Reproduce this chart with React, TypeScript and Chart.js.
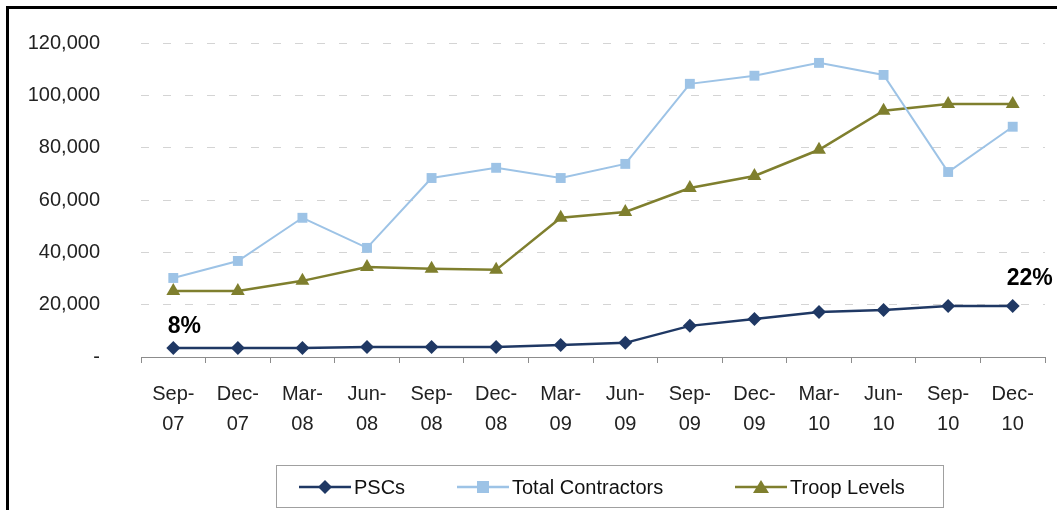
import React, { useEffect, useRef } from 'react';
import { Chart, registerables } from 'chart.js';

Chart.register(...registerables);

const categories: string[][] = [
  ['Sep-', '07'], ['Dec-', '07'], ['Mar-', '08'], ['Jun-', '08'],
  ['Sep-', '08'], ['Dec-', '08'], ['Mar-', '09'], ['Jun-', '09'],
  ['Sep-', '09'], ['Dec-', '09'], ['Mar-', '10'], ['Jun-', '10'],
  ['Sep-', '10'], ['Dec-', '10'],
];
const pscs = [3400, 3400, 3400, 3800, 3800, 3800, 4600, 5400, 11900, 14500, 17200, 18000, 19500, 19500];
const totalContractors = [30200, 36700, 53200, 41700, 68400, 72300, 68400, 73800, 104400, 107500, 112400, 107800, 70700, 88000];
const troopLevels = [25200, 25200, 29100, 34400, 33700, 33300, 53200, 55400, 64600, 69200, 79200, 94100, 96700, 96700];
const yTickValues = [0, 20000, 40000, 60000, 80000, 100000, 120000];
const seriesNames = ['PSCs', 'Total Contractors', 'Troop Levels'];
const annotationTexts = ['8%', '22%'];
const annotationIndices = [0, 13];

const FONT = '"Liberation Sans", Arial, sans-serif';
const COLORS = ['#1f3864', '#9dc3e6', '#7f7f2e'];
const POINT_STYLES = ['rectRot', 'rect', 'triangle'];

const framePlugin = {
  id: 'frame',
  beforeDraw(chart: any) {
    const ctx = chart.ctx;
    ctx.save();
    ctx.fillStyle = '#ffffff';
    ctx.fillRect(0, 0, chart.width, chart.height);
    ctx.fillStyle = '#000000';
    ctx.fillRect(6, 6, 3, chart.height - 6);
    ctx.fillRect(6, 6, chart.width - 6, 3);
    ctx.restore();
  },
};

const annotationPlugin = {
  id: 'pctLabels',
  afterDatasetsDraw(chart: any) {
    const ctx = chart.ctx;
    const meta = chart.getDatasetMeta(0);
    const offsets = [[11, -21], [17, -27]];
    ctx.save();
    ctx.font = `bold 23px ${FONT}`;
    ctx.fillStyle = '#000000';
    ctx.textAlign = 'center';
    ctx.textBaseline = 'middle';
    annotationTexts.forEach((t, i) => {
      const el = meta.data[annotationIndices[i]];
      ctx.fillText(t, el.x + offsets[i][0], el.y + offsets[i][1]);
    });
    ctx.restore();
  },
};

function drawMarker(ctx: CanvasRenderingContext2D, style: string, x: number, y: number, color: string) {
  ctx.fillStyle = color;
  ctx.beginPath();
  if (style === 'rectRot') {
    ctx.moveTo(x, y - 7); ctx.lineTo(x + 7, y); ctx.lineTo(x, y + 7); ctx.lineTo(x - 7, y);
  } else if (style === 'rect') {
    ctx.rect(x - 6, y - 6, 12, 12);
  } else {
    ctx.moveTo(x, y - 7); ctx.lineTo(x + 8, y + 6); ctx.lineTo(x - 8, y + 6);
  }
  ctx.closePath();
  ctx.fill();
}

const legendPlugin = {
  id: 'boxLegend',
  afterDraw(chart: any) {
    const ctx = chart.ctx;
    ctx.save();
    ctx.strokeStyle = '#a0a0a0';
    ctx.lineWidth = 1;
    ctx.strokeRect(276.5, 465.5, 667, 42);
    const cy = 487;
    const lineStarts = [299, 457, 735];
    ctx.font = `20px ${FONT}`;
    ctx.textBaseline = 'middle';
    ctx.textAlign = 'left';
    seriesNames.forEach((name, i) => {
      const x0 = lineStarts[i];
      ctx.strokeStyle = COLORS[i];
      ctx.lineWidth = 2.5;
      ctx.beginPath();
      ctx.moveTo(x0, cy);
      ctx.lineTo(x0 + 52, cy);
      ctx.stroke();
      drawMarker(ctx, POINT_STYLES[i], x0 + 26, cy, COLORS[i]);
      ctx.fillStyle = '#111111';
      ctx.fillText(name, x0 + 55, cy + 1);
    });
    ctx.restore();
  },
};

export default function App() {
  const ref = useRef<HTMLCanvasElement>(null);
  useEffect(() => {
    if (!ref.current) return;
    const data = [pscs, totalContractors, troopLevels];
    const chart = new Chart(ref.current, {
      type: 'line',
      data: {
        labels: categories,
        datasets: data.map((d, i) => ({
          label: seriesNames[i],
          data: d,
          borderColor: COLORS[i],
          backgroundColor: COLORS[i],
          borderWidth: i === 1 ? 2 : 2.5,
          pointStyle: POINT_STYLES[i] as any,
          pointRadius: i === 0 ? 7 : i === 1 ? 7 : 8,
          pointBorderWidth: 0,
          tension: 0,
          fill: false,
        })),
      },
      options: {
        responsive: false,
        animation: false,
        devicePixelRatio: 1,
        layout: { autoPadding: false, padding: { left: 0, right: 12, top: 43, bottom: 0 } },
        plugins: {
          legend: { display: false },
          tooltip: { enabled: false },
        },
        scales: {
          x: {
            offset: true,
            grid: {
              offset: true,
              drawOnChartArea: false,
              drawTicks: true,
              tickLength: 6,
              color: '#8c8c8c',
            },
            border: { display: true, color: '#8c8c8c', width: 1 },
            ticks: {
              font: { family: FONT, size: 20, lineHeight: 1.5 },
              color: '#222222',
              padding: 16,
              maxRotation: 0,
              autoSkip: false,
            },
            afterFit(scale: any) {
              scale.height = 153;
              scale.paddingTop = 0;
              scale.paddingBottom = 0;
            },
          },
          y: {
            min: 0,
            max: 120000,
            afterBuildTicks(scale: any) {
              scale.ticks = yTickValues.map((v) => ({ value: v }));
            },
            grid: {
              drawTicks: false,
              color: (c: any) => (c.tick && c.tick.value === 0 ? 'rgba(0,0,0,0)' : '#d4d4d4'),
              lineWidth: 1,
            },
            border: { display: false, dash: [8, 14] },
            ticks: {
              font: { family: FONT, size: 20 },
              color: '#222222',
              padding: 41,
              callback: (v: any) => (Number(v) === 0 ? '-' : Number(v).toLocaleString('en-US')),
            },
            afterFit(scale: any) {
              scale.width = 141;
              scale.paddingTop = 0;
              scale.paddingBottom = 0;
            },
          },
        },
      },
      plugins: [framePlugin, annotationPlugin, legendPlugin],
    });
    return () => chart.destroy();
  }, []);
  return (
    <div style={{ position: 'fixed', left: 0, top: 0, width: 1057, height: 510, background: '#fff' }}>
      <canvas ref={ref} width={1057} height={510} style={{ display: 'block', width: 1057, height: 510 }} />
    </div>
  );
}
